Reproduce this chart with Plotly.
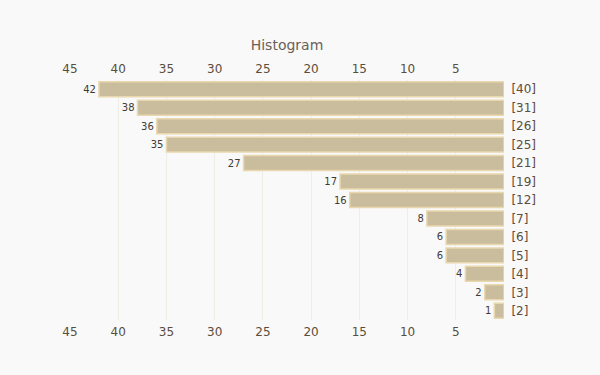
import plotly.graph_objects as go

categories = ["[40]", "[31]", "[26]", "[25]", "[21]", "[19]", "[12]", "[7]", "[6]", "[5]", "[4]", "[3]", "[2]"]
values = [42, 38, 36, 35, 27, 17, 16, 8, 6, 6, 4, 2, 1]
tick_vals = [5, 10, 15, 20, 25, 30, 35, 40, 45]

font_family = "DejaVu Sans"
tick_color = "#5b4d3d"

fig = go.Figure()
fig.add_trace(go.Bar(
    x=values, y=categories, orientation="h",
    marker=dict(color="#cabd9e", line=dict(color="#e9d7ae", width=1.5)),
    text=[str(v) for v in values], textposition="outside",
    textfont=dict(family=font_family, size=10, color="#3f3a34"),
    cliponaxis=False, hoverinfo="x+y",
))
fig.add_trace(go.Scatter(
    x=values, y=categories, mode="lines", xaxis="x2",
    line=dict(width=0, color="rgba(0,0,0,0)"), hoverinfo="skip", showlegend=False,
))

axis_common = dict(
    range=[45, 0], tickvals=tick_vals, showgrid=True, gridcolor="#f0ede6",
    gridwidth=1, zeroline=False, showline=False,
    ticks="outside", ticklen=1, tickcolor="rgba(0,0,0,0)",
    tickfont=dict(family=font_family, size=12, color=tick_color),
)
fig.update_layout(
    width=600, height=375,
    paper_bgcolor="#f9f9f9", plot_bgcolor="#f9f9f9",
    margin=dict(l=70, r=96, t=80, b=55),
    showlegend=False, bargap=0.19,
    title=dict(text="Histogram", x=0.5, xref="paper", y=1 - 45 / 375,
               yref="container", yanchor="middle",
               font=dict(family=font_family, size=14, color="#6b6158")),
    xaxis=dict(side="bottom", **axis_common),
    xaxis2=dict(side="top", overlaying="x", matches="x", **axis_common),
    yaxis=dict(side="right", categoryorder="array", categoryarray=categories,
               range=[len(categories) - 0.5, -0.5], showgrid=False,
               ticks="outside", ticklen=4, tickcolor="rgba(0,0,0,0)",
               tickfont=dict(family=font_family, size=12, color=tick_color)),
)
fig.write_html("out.html", post_script="document.body.style.margin='0';",
               config={"displayModeBar": False})
